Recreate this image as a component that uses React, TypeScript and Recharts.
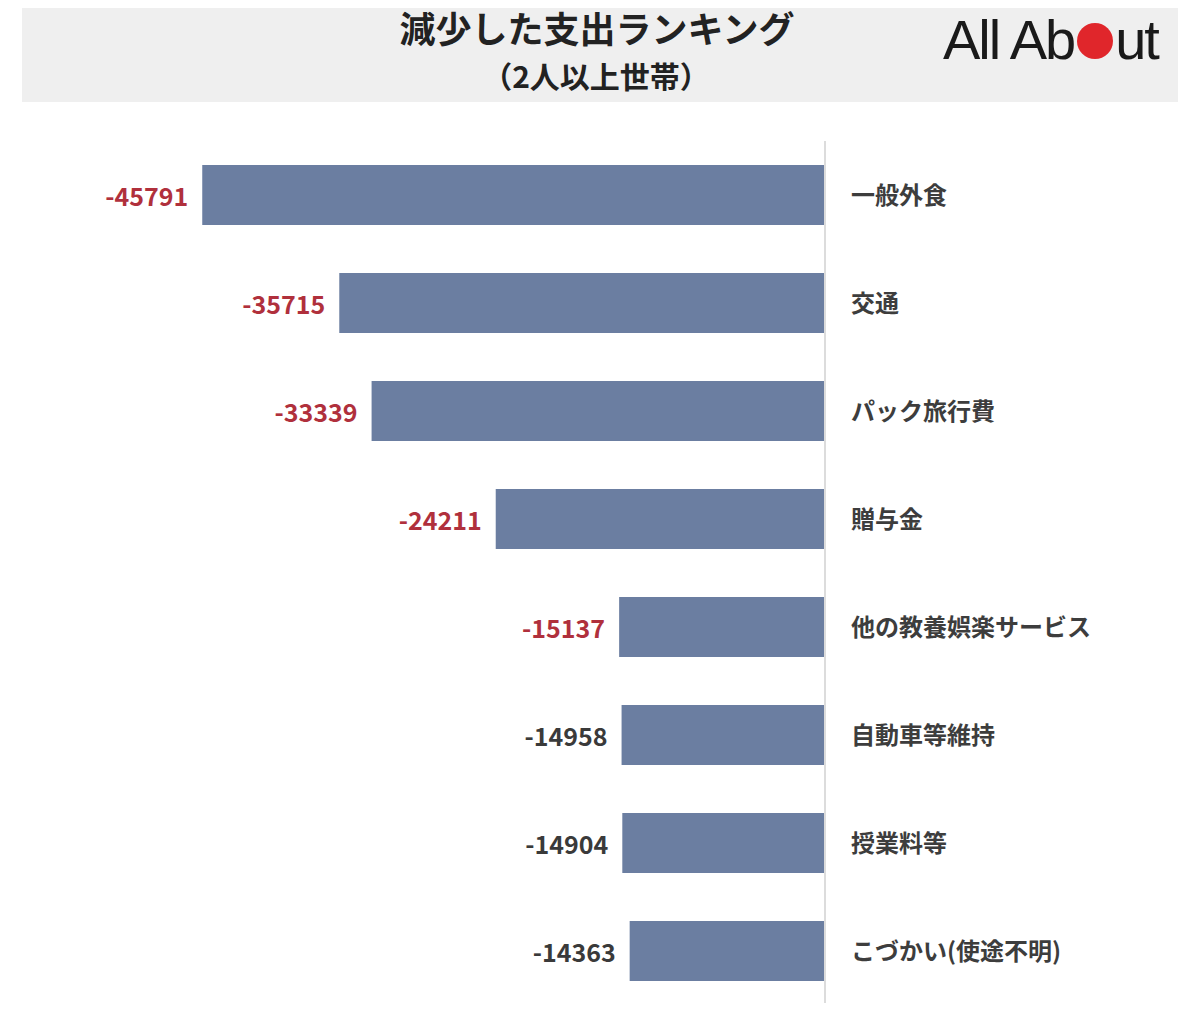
import { BarChart, Bar, XAxis, YAxis, LabelList } from 'recharts';

const categories = [
  '一般外食',
  '交通',
  'パック旅行費',
  '贈与金',
  '他の教養娯楽サービス',
  '自動車等維持',
  '授業料等',
  'こづかい(使途不明)',
];
const values = [-45791, -35715, -33339, -24211, -15137, -14958, -14904, -14363];
const highlighted = [true, true, true, true, true, false, false, false];

const title = '減少した支出ランキング';
const subtitle = '（2人以上世帯）';

const data = categories.map((name, i) => ({ name, value: values[i], hot: highlighted[i] }));

const FONT = '"Noto Sans CJK JP", "Noto Sans", sans-serif';

// 値ラベル（バーの左端の外側）
const ValueLabel = (props: any) => {
  const { x, y, width, height, value, index } = props;
  const left = Math.min(Number(x), Number(x) + Number(width));
  const hot = data[index]?.hot;
  return (
    <text
      x={left - 14}
      y={Number(y) + Number(height) / 2}
      textAnchor="end"
      dominantBaseline="central"
      fontFamily={FONT}
      fontWeight="bold"
      fontSize={25}
      fill={hot ? '#b0303c' : '#3a3a3a'}
    >
      {value}
    </text>
  );
};

const Logo = () => (
  <div
    style={{
      position: 'absolute',
      left: 943,
      top: 6,
      fontFamily: '"Liberation Sans", Arial, sans-serif',
      fontSize: 56,
      lineHeight: '68px',
      color: '#1a1a1a',
      letterSpacing: -2,
      whiteSpace: 'nowrap',
      display: 'flex',
      alignItems: 'baseline',
    }}
  >
    <span>All Ab</span>
    <span
      style={{
        display: 'inline-block',
        width: 36,
        height: 36,
        borderRadius: '50%',
        background: '#e0262b',
        margin: '0 2px 0 3px',
      }}
    />
    <span>ut</span>
  </div>
);

export default function App() {
  return (
    <div
      style={{
        position: 'relative',
        width: 1200,
        height: 1011,
        margin: -8,
        background: '#fff',
        overflow: 'hidden',
      }}
    >
      <div
        style={{
          position: 'absolute',
          left: 22,
          top: 0,
          width: 1156,
          height: 102,
          background: '#efefef',
        }}
      />
      <div
        style={{
          position: 'absolute',
          left: 0,
          top: 6,
          width: 1194,
          height: 42,
          textAlign: 'center',
          fontFamily: FONT,
          fontWeight: 'bold',
          color: '#222',
          fontSize: 36,
          lineHeight: '42px',
        }}
      >
        {title}
      </div>
      <div
        style={{
          position: 'absolute',
          left: 0,
          top: 59,
          width: 1192,
          height: 32,
          textAlign: 'center',
          fontFamily: FONT,
          fontWeight: 'bold',
          color: '#222',
          fontSize: 30,
          lineHeight: '32px',
        }}
      >
        {subtitle}
      </div>
      <Logo />
      <div style={{ position: 'absolute', left: 0, top: 0 }}>
        <BarChart
          width={1200}
          height={1011}
          data={data}
          layout="vertical"
          margin={{ top: 141, right: 0, bottom: 6, left: 145 }}
        >
          <XAxis type="number" domain={[-50000, 0]} hide />
          <YAxis
            type="category"
            dataKey="name"
            orientation="right"
            width={375}
            axisLine={{ stroke: '#dcdcdc', strokeWidth: 2 }}
            tickLine={false}
            tickMargin={20}
            tick={{ fontSize: 24, fontWeight: 'bold', fill: '#3d3d3d', fontFamily: FONT }}
          />
          <Bar dataKey="value" fill="#6b7ea1" barSize={60} isAnimationActive={false}>
            <LabelList dataKey="value" content={<ValueLabel />} />
          </Bar>
        </BarChart>
      </div>
    </div>
  );
}
